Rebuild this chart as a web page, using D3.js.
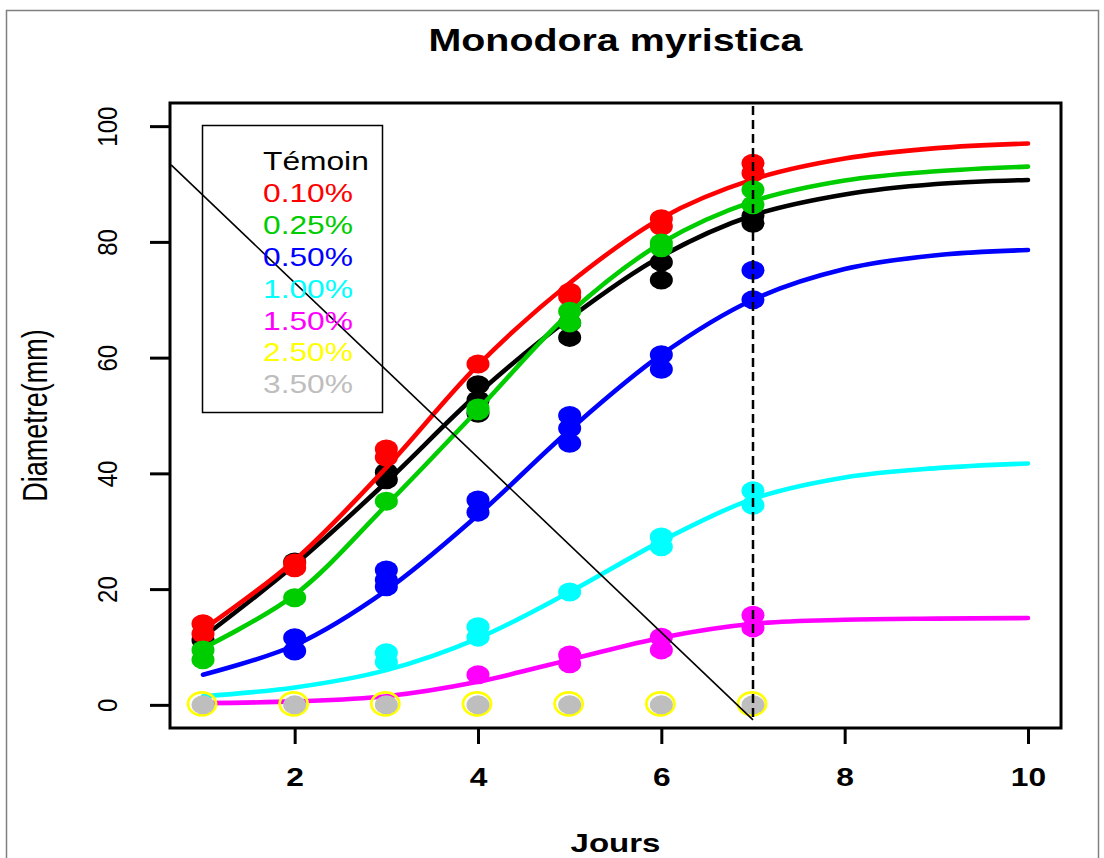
<!DOCTYPE html>
<html><head><meta charset="utf-8">
<script src="https://cdn.jsdelivr.net/npm/d3@7"></script>
<style>body{margin:0;background:#fff}svg{display:block}</style>
</head><body>
<svg id="c" width="1104" height="858"></svg>
<script>
// ---------- data ----------
const title = "Monodora myristica";
const xLabel = "Jours";
const yLabel = "Diametre(mm)";
const xTicks = [2, 4, 6, 8, 10];
const yTicks = [0, 20, 40, 60, 80, 100];
const seriesNames = ["Témoin", "0.10%", "0.25%", "0.50%", "1.00%", "1.50%", "2.50%", "3.50%"];
const seriesColors = ["#000000", "#FF0000", "#00CD00", "#0000FF", "#00FFFF", "#FF00FF", "#FFFF00", "#BEBEBE"];
const obsDays = [1, 2, 3, 4, 5, 6, 7];
const fitDays = [1, 2, 3, 4, 5, 6, 7, 8, 9, 10];

// observed replicates per day
const temoinObs  = [[11.2], [24.7], [40.2, 38.9], [55.3, 52.7, 50.4], [63.5, 66], [76.5, 73.4], [83.2, 84.5]];
const p010Obs    = [[14, 12.3], [23.7, 24.5], [44.2, 42.8], [58.9], [71.3, 70.5], [84, 82.7], [93.6, 91.9]];
const p025Obs    = [[9.5, 7.8], [18.5], [35.2], [50.8, 51.3], [68, 66], [79, 79.8], [89, 86.4]];
const p050Obs    = [[], [11.6, 9.3], [23.3, 21.6, 20.4], [35.4, 33.3], [50, 47.8, 45.2], [60.5, 58], [75.1, 70]];
const p100Obs    = [[], [], [9, 7.4], [13.5, 11.7], [19.5], [29, 27.3], [37, 34.5]];
const p150Obs    = [[], [], [], [5.2], [8.6, 7.1], [11.7, 9.5], [15.5, 13.3]];
const p250Obs    = [[0], [0], [0], [0], [0], [0], [0]];
const p350Obs    = [[0], [0], [0], [0], [0], [0], [0]];

// fitted curves read at days 1..10
const temoinFit = [11.7, 24.2, 38.5, 53.8, 66.8, 77.5, 84.6, 88.2, 90.0, 90.7];
const p010Fit   = [13.0, 25.0, 41.0, 58.7, 72.9, 84.1, 90.8, 94.4, 96.2, 97.0];
const p025Fit   = [9.8, 19.0, 34.5, 51.0, 67.7, 79.8, 87.0, 90.6, 92.2, 93.0];
const p050Fit   = [5.2, 10.3, 19.8, 32.8, 47.5, 60.5, 70.0, 75.3, 77.7, 78.6];
const p100Fit   = [1.5, 3.0, 6.0, 11.5, 19.5, 28.3, 35.6, 39.3, 40.9, 41.7];
const p150Fit   = [0.3, 0.6, 1.5, 4.0, 7.8, 11.6, 14.0, 14.7, 14.9, 15.0];

// reference lines
const diagLine = [[0.652, 93.3], [7, -2.6]];
const cutoffLine = [[7, 103.5], [7, -2.6]];

const allObs = [temoinObs, p010Obs, p025Obs, p050Obs, p100Obs, p150Obs, p250Obs, p350Obs];
const allFit = [temoinFit, p010Fit, p025Fit, p050Fit, p100Fit, p150Fit, null, null];

// ---------- layout ----------
const SX = 1.27;
const L = 170, R = 1061, T = 103, B = 728;
const svg = d3.select("#c");
const x = d3.scaleLinear().domain([0.64, 10.36]).range([L, R]);
const y = d3.scaleLinear().domain([-4, 104]).range([B, T]);
const font = "'Liberation Sans', Arial, Helvetica, sans-serif";

// outer frame
svg.append("rect").attr("x", 6.5).attr("y", 10.5).attr("width", 1092).attr("height", 900)
  .attr("fill", "none").attr("stroke", "#808080").attr("stroke-width", 1.5);

// title
svg.append("text").text(title)
  .attr("transform", `translate(${(L + R) / 2},51) scale(${SX},1)`)
  .attr("text-anchor", "middle").attr("font-family", font).attr("font-weight", "bold")
  .attr("font-size", 31).attr("fill", "#000");

// axes
const xa = svg.append("g").attr("transform", `translate(0,${B})`)
  .call(d3.axisBottom(x).tickValues(xTicks).tickSize(16).tickFormat(d3.format("d")));
xa.select(".domain").remove();
xa.selectAll("line").attr("stroke", "#000").attr("stroke-width", 3);
xa.selectAll("text").attr("y", 58).attr("dy", null)
  .attr("transform", `scale(${SX},1)`)
  .attr("font-family", font).attr("font-weight", "bold").attr("font-size", 25).attr("fill", "#000");

const ya = svg.append("g").attr("transform", `translate(${L},0)`)
  .call(d3.axisLeft(y).tickValues(yTicks).tickSize(20).tickFormat(d3.format("d")));
ya.select(".domain").remove();
ya.selectAll("line").attr("stroke", "#000").attr("stroke-width", 3);
ya.selectAll("text").attr("x", 0).attr("y", 0).attr("dy", null)
  .attr("transform", "translate(-53,0) scale(1.12,1) rotate(-90)")
  .attr("text-anchor", "middle")
  .attr("font-family", font).attr("font-size", 24).attr("fill", "#000");

// axis titles
svg.append("text").text(xLabel)
  .attr("transform", `translate(${(L + R) / 2},852) scale(${SX},1)`)
  .attr("text-anchor", "middle").attr("font-family", font).attr("font-weight", "bold")
  .attr("font-size", 26).attr("fill", "#000");
svg.append("text").text(yLabel)
  .attr("transform", `translate(47,${(T + B) / 2}) scale(${SX},1) rotate(-90)`)
  .attr("text-anchor", "middle").attr("font-family", font)
  .attr("font-size", 27).attr("fill", "#000");

// clip for plot region
svg.append("clipPath").attr("id", "clip").append("rect")
  .attr("x", L).attr("y", T).attr("width", R - L).attr("height", B - T);
const plot = svg.append("g").attr("clip-path", "url(#clip)");

const line = d3.line().x((d, i) => x(fitDays[i])).y(d => y(d)).curve(d3.curveCatmullRom.alpha(0.5));

allObs.forEach((obs, si) => {
  const col = seriesColors[si];
  const fit = allFit[si];
  if (fit) {
    plot.append("path").datum(fit).attr("d", line)
      .attr("fill", "none").attr("stroke", col).attr("stroke-width", 4.6)
      .attr("stroke-linecap", "round").attr("stroke-linejoin", "round");
  }
  const pts = [];
  obs.forEach((vals, di) => vals.forEach(v => pts.push({ d: obsDays[di], v })));
  const g = plot.append("g");
  if (si === 6) {
    g.selectAll("ellipse").data(pts).join("ellipse")
      .attr("cx", p => x(p.d) - 1).attr("cy", p => y(p.v) - 1)
      .attr("rx", 14).attr("ry", 11.5)
      .attr("fill", "none").attr("stroke", col).attr("stroke-width", 2.8);
  } else {
    g.selectAll("ellipse").data(pts).join("ellipse")
      .attr("cx", p => x(p.d)).attr("cy", p => y(p.v))
      .attr("rx", 11.5).attr("ry", 9.5)
      .attr("fill", col);
  }
});

// legend
const lg = svg.append("g");
lg.append("rect").attr("x", 202.5).attr("y", 125.5).attr("width", 180).attr("height", 287)
  .attr("fill", "none").attr("stroke", "#000").attr("stroke-width", 1.5);
seriesNames.forEach((n, i) => {
  lg.append("text").text(n)
    .attr("transform", `translate(263,${170 + 31.9 * i}) scale(${SX},1)`)
    .attr("font-family", font).attr("font-size", 25).attr("fill", seriesColors[i]);
});

// reference lines
const seg = d3.line().x(d => x(d[0])).y(d => y(d[1]));
plot.append("path").datum(diagLine).attr("d", seg)
  .attr("stroke", "#000").attr("stroke-width", 1.6).attr("fill", "none");
svg.append("path").datum(cutoffLine).attr("d", seg)
  .attr("stroke", "#000").attr("stroke-width", 2.5).attr("stroke-dasharray", "9,5").attr("fill", "none");

// plot box
svg.append("rect").attr("x", L).attr("y", T).attr("width", R - L).attr("height", B - T)
  .attr("fill", "none").attr("stroke", "#000").attr("stroke-width", 3);
</script>
</body></html>
